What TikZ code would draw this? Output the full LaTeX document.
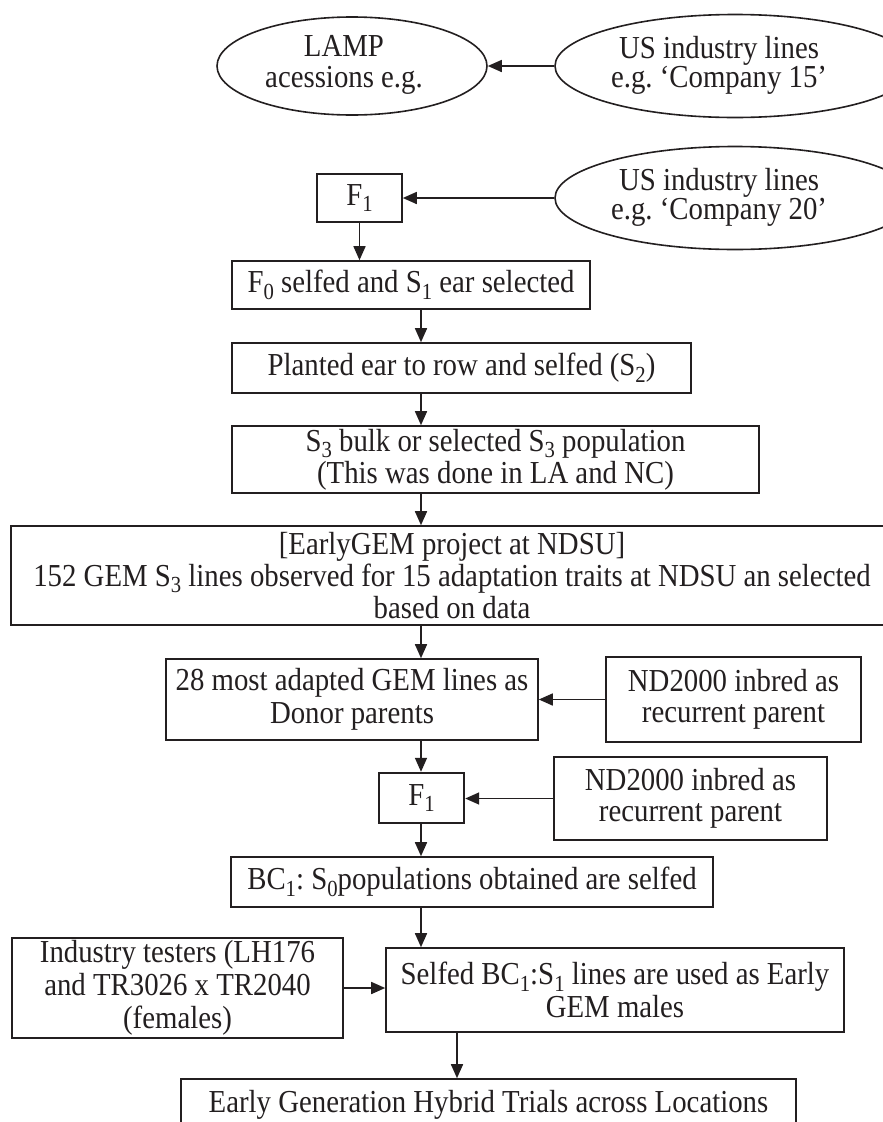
\documentclass[tikz,border=0pt]{standalone}
\usepackage{fontspec}
\setmainfont{Liberation Serif}[FakeStretch=0.9]
\usetikzlibrary{shapes.geometric,arrows.meta}
\definecolor{ink}{RGB}{35,31,32}
\newcommand\dsub[1]{\raisebox{-0.2em}{\fontsize{23}{23}\selectfont #1}}
\begin{document}
\frenchspacing
\begin{tikzpicture}[x=1pt,y=-1pt,
  every node/.style={font=\fontsize{32}{31}\selectfont, text=ink},
  box/.style={draw=ink, line width=1.6pt, rectangle, inner sep=0pt, align=center},
  oval/.style={draw=ink, line width=1.6pt, ellipse, inner sep=0pt},
  arr/.style={draw=ink, line width=1.6pt, -{Triangle[length=14pt,width=12pt]}}]
\clip (0,0) rectangle (883,1122);
\fill[white] (0,0) rectangle (883,1122);

% top ellipses
\node[oval, minimum width=270, minimum height=98] (lamp) at (352,66)
  {\makebox[0pt]{\begin{tabular}{@{}c@{}}LAMP\\acessions e.g.\end{tabular}\hspace*{16pt}}};
\node[oval, minimum width=360, minimum height=103] (us15) at (735,66)
  {\makebox[0pt]{\renewcommand\arraystretch{0.9}\begin{tabular}{@{}c@{}}US industry lines\\e.g. ‘Company 15’\end{tabular}\hspace*{32pt}}};

\node[box, minimum width=85, minimum height=48] (f1a) at (359.5,198) {F\dsub{1}};
\node[oval, minimum width=360, minimum height=103] (us20) at (735,198)
  {\makebox[0pt]{\renewcommand\arraystretch{0.9}\begin{tabular}{@{}c@{}}US industry lines\\e.g. ‘Company 20’\end{tabular}\hspace*{32pt}}};

\node[box, minimum width=358, minimum height=48] (f0) at (411,285)
  {F\dsub{0} selfed and S\dsub{1} ear selected};
\node[box, minimum width=459, minimum height=50] (planted) at (461.5,368)
  {Planted ear to row and selfed (S\dsub{2})};
\node[box, minimum width=527, minimum height=67, font=\fontsize{32}{32}\selectfont] (s3) at (495.5,459.5)
  {S\dsub{3} bulk or selected S\dsub{3} population\\(This was done in LA and NC)};
\node[box, minimum width=882, minimum height=99, font=\fontsize{32}{32}\selectfont] (gem) at (452,575.5)
  {[EarlyGEM project at NDSU]\\152 GEM S\dsub{3} lines observed for 15 adaptation traits at NDSU an selected\\based on data};
\node[box, minimum width=372, minimum height=81, font=\fontsize{32}{33}\selectfont] (box28) at (352,699.5)
  {28 most adapted GEM lines as\\Donor parents};
\node[box, minimum width=255, minimum height=85] (nd1) at (733.5,699.5)
  {ND2000 inbred as\\recurrent parent};
\node[box, line width=2.4pt, minimum width=85, minimum height=50] (f1b) at (421.5,798) {F\dsub{1}};
\node[box, minimum width=273, minimum height=83] (nd2) at (690.5,798.5)
  {ND2000 inbred as\\recurrent parent};
\node[box, minimum width=482, minimum height=50] (bc1) at (472,882)
  {BC\dsub{1}: S\dsub{0}populations obtained are selfed};
\node[box, minimum width=331, minimum height=100, font=\fontsize{32}{33}\selectfont] (ind) at (177.5,988)
  {Industry testers (LH176\\and TR3026 x TR2040\\(females)};
\node[box, minimum width=458, minimum height=84, font=\fontsize{32}{33}\selectfont] (selfed) at (615,990)
  {Selfed BC\dsub{1}:S\dsub{1} lines are used as Early\\GEM males};
\node[box, minimum width=615, minimum height=51] (final) at (488.5,1104.5)
  {Early Generation Hybrid Trials across Locations};

% connectors
\coordinate (spine) at (421,0);
\coordinate (spineb) at (457,0);
\draw[arr] (us15.west) -- (lamp.east);
\draw[arr] (us20.west) -- (f1a.east);
\draw[arr] (f1a.south) -- (f1a.south |- f0.north);
\draw[arr] (f0.south -| spine) -- (planted.north -| spine);
\draw[arr] (planted.south -| spine) -- (s3.north -| spine);
\draw[arr] (s3.south -| spine) -- (gem.north -| spine);
\draw[arr] (gem.south -| spine) -- (box28.north -| spine);
\draw[arr] (nd1.west) -- (box28.east);
\draw[arr] (box28.south -| spine) -- (f1b.north -| spine);
\draw[arr] (nd2.west) -- (nd2.west -| f1b.east);
\draw[arr] (f1b.south -| spine) -- (bc1.north -| spine);
\draw[arr] (bc1.south -| spine) -- (selfed.north -| spine);
\draw[arr] (ind.east) -- (ind.east -| selfed.west);
\draw[arr] (selfed.south -| spineb) -- (final.north -| spineb);
\end{tikzpicture}
\end{document}
